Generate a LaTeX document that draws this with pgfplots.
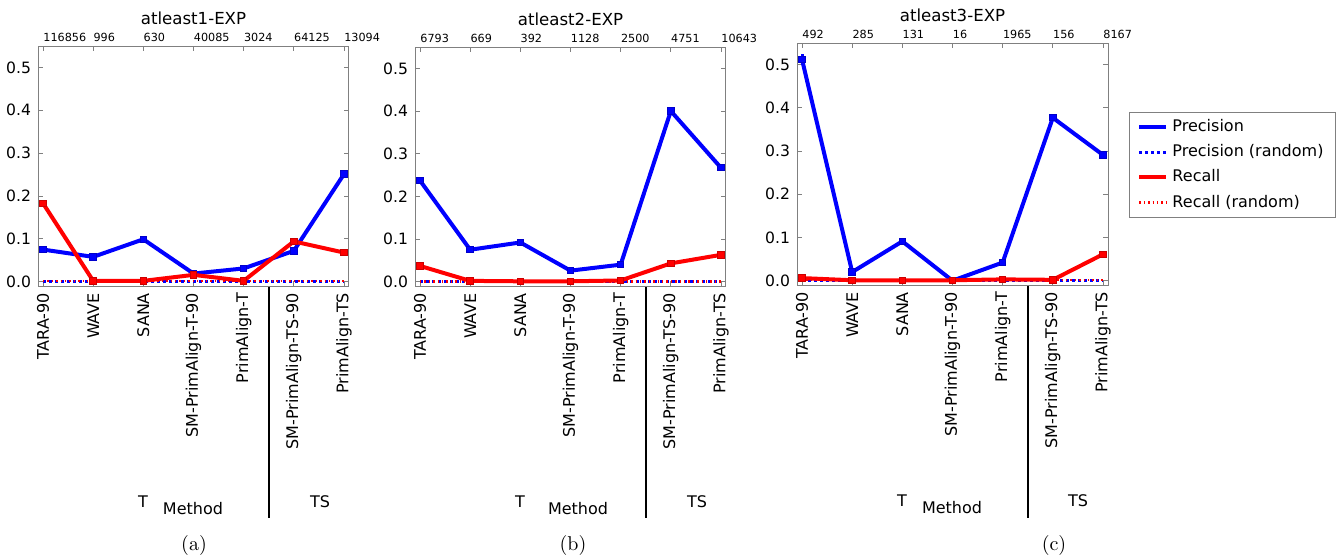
\documentclass[border=0pt]{standalone}
\usepackage{fontspec}
\usepackage{pgfplots}
\pgfplotsset{compat=1.18}
\newfontfamily\dv{DejaVu Sans}

\pgfplotsset{
 panel/.style={
  scale only axis, width=155.5pt,
  xmin=-0.1, xmax=6.1, ymin=-0.01, ymax=0.55,
  anchor=south west,
  xtick={0,1,2,3,4,5,6},
  xticklabels={TARA-90,WAVE,SANA,SM-PrimAlign-T-90,PrimAlign-T,SM-PrimAlign-TS-90,PrimAlign-TS},
  ytick={0,0.1,0.2,0.3,0.4,0.5},
  yticklabel style={font=\dv\fontsize{7.8}{9}\selectfont,
    /pgf/number format/fixed, /pgf/number format/fixed zerofill,
    /pgf/number format/precision=1, /pgf/number format/assume math mode=true},
  xticklabel style={font=\dv\fontsize{8}{9}\selectfont, rotate=90, anchor=east},
  tick align=inside, tick pos=both, major tick length=2.5pt,
  every tick/.style={gray, line width=0.4pt},
  axis line style={gray, line width=0.5pt},
  title style={font=\dv\fontsize{8.3}{10}\selectfont, at={(0.5,1)}, anchor=base, yshift=5pt},
  clip=false,
  legend image code/.code={\draw[#1] (0pt,0pt) -- (13.5pt,0pt);},
 },
 prec/.style={blue, line width=2pt, mark=square*, mark size=1.6pt,
   mark options={solid, fill=blue, draw=blue!80!black, line width=0.5pt}},
 precr/.style={blue, line width=1.5pt, dash pattern=on 1.5pt off 1.5pt, mark=none},
 rec/.style={red, line width=2pt, mark=square*, mark size=1.6pt,
   mark options={solid, fill=red, draw=red!80!black, line width=0.5pt}},
 recr/.style={red, line width=1.2pt, dash pattern=on 0.7pt off 1.5pt, mark=none},
}
\tikzset{
 topnum/.style={anchor=south west, inner sep=0pt, yshift=2pt, font=\dv\fontsize{5.6}{7}\selectfont},
 lab/.style={font=\dv\fontsize{8}{9}\selectfont, inner sep=0pt},
 captn/.style={font=\rmfamily\fontsize{10}{12}\selectfont, inner sep=0pt}}
\newcommand\topnum[2]{\node[topnum] at (axis cs:#1,0.55) {#2};}

\begin{document}
\begin{tikzpicture}
\useasboundingbox (0pt,0pt) rectangle (671.5pt,-278pt);

% ---------------- Panel (a)
\begin{axis}[panel, at={(19pt,-143pt)}, height=120pt, title={atleast1-EXP}]
\addplot[prec] coordinates {(0,0.075)(1,0.058)(2,0.099)(3,0.019)(4,0.031)(5,0.072)(6,0.251)};
\addplot[precr] coordinates {(0,0.001)(1,0.001)(2,0.001)(3,0.001)(4,0.001)(5,0.001)(6,0.001)};
\addplot[rec] coordinates {(0,0.183)(1,0.002)(2,0.002)(3,0.016)(4,0.002)(5,0.094)(6,0.068)};
\addplot[recr] coordinates {(0,0.001)(1,0.001)(2,0.001)(3,0.001)(4,0.001)(5,0.001)(6,0.001)};
\topnum{0}{116856}\topnum{1}{996}\topnum{2}{630}\topnum{3}{40085}\topnum{4}{3024}\topnum{5}{64125}\topnum{6}{13094}
\end{axis}

% ---------------- Panel (b)
\begin{axis}[panel, at={(207.5pt,-143pt)}, height=119.5pt, title={atleast2-EXP}]
\addplot[prec] coordinates {(0,0.237)(1,0.075)(2,0.092)(3,0.026)(4,0.040)(5,0.400)(6,0.267)};
\addplot[precr] coordinates {(0,0.001)(1,0.001)(2,0.001)(3,0.001)(4,0.001)(5,0.001)(6,0.001)};
\addplot[rec] coordinates {(0,0.037)(1,0.002)(2,0.001)(3,0.001)(4,0.003)(5,0.043)(6,0.063)};
\addplot[recr] coordinates {(0,0.001)(1,0.001)(2,0.001)(3,0.001)(4,0.001)(5,0.001)(6,0.001)};
\topnum{0}{6793}\topnum{1}{669}\topnum{2}{392}\topnum{3}{1128}\topnum{4}{2500}\topnum{5}{4751}\topnum{6}{10643}
\end{axis}

% ---------------- Panel (c)
\begin{axis}[panel, at={(398.5pt,-142.5pt)}, height=121pt, title={atleast3-EXP},
  legend cell align=left,
  legend style={at={(rel axis cs:1.0675,0.715)}, anchor=north west,
    draw=gray, line width=0.5pt, font=\dv\fontsize{8}{9}\selectfont,
    row sep=1pt, inner xsep=4pt, inner ysep=1.5pt,
    /tikz/every even column/.append style={column sep=8pt}}]
\addplot[prec, error bars/.cd, y dir=both, y explicit,
  error bar style={blue, line width=1.5pt}, error mark=none]
  coordinates {(0,0.512) +- (0,0.012) (1,0.020) +- (0,0) (2,0.091) +- (0,0) (3,0.0) +- (0,0)
               (4,0.042) +- (0,0) (5,0.377) +- (0,0) (6,0.291) +- (0,0)};
\addlegendentry{Precision}
\addplot[precr] coordinates {(0,0.001)(1,0.001)(2,0.001)(3,0.001)(4,0.001)(5,0.001)(6,0.001)};
\addlegendentry{Precision (random)}
\addplot[rec] coordinates {(0,0.006)(1,0.001)(2,0.001)(3,0.001)(4,0.003)(5,0.002)(6,0.061)};
\addlegendentry{Recall}
\addplot[recr] coordinates {(0,0.001)(1,0.001)(2,0.001)(3,0.001)(4,0.001)(5,0.001)(6,0.001)};
\addlegendentry{Recall (random)}
\topnum{0}{492}\topnum{1}{285}\topnum{2}{131}\topnum{3}{16}\topnum{4}{1965}\topnum{5}{156}\topnum{6}{8167}
\end{axis}

% ---------------- group labels, separators, captions
\node[lab] at (71.5pt,-251pt) {T};
\node[lab] at (96.5pt,-254.5pt) {Method};
\node[lab] at (160pt,-251pt) {TS};
\draw[black, line width=1pt] (134.4pt,-143.5pt) -- (134.4pt,-259pt);
\node[captn] at (97pt,-272.5pt) {(a)};

\node[lab] at (260pt,-251pt) {T};
\node[lab] at (289pt,-254.5pt) {Method};
\node[lab] at (348.5pt,-251pt) {TS};
\draw[black, line width=1pt] (322.9pt,-143.5pt) -- (322.9pt,-259pt);
\node[captn] at (286.5pt,-272.5pt) {(b)};

\node[lab] at (451pt,-250.5pt) {T};
\node[lab] at (476pt,-254pt) {Method};
\node[lab] at (539pt,-250.5pt) {TS};
\draw[black, line width=1pt] (513.9pt,-143pt) -- (513.9pt,-259pt);
\node[captn] at (527pt,-272.5pt) {(c)};
\end{tikzpicture}
\end{document}
